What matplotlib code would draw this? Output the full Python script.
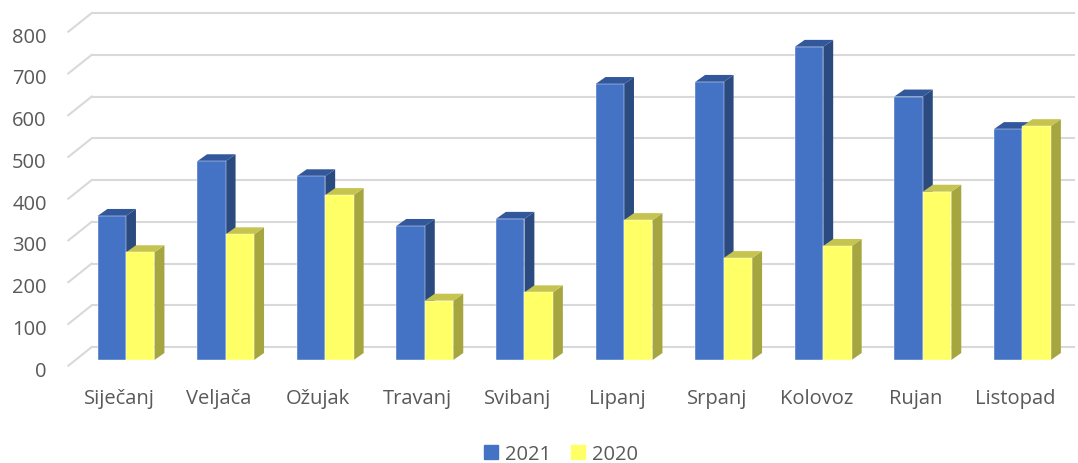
import matplotlib
matplotlib.use('Agg')
import matplotlib.pyplot as plt
from matplotlib.patches import Polygon, Patch

plt.rcParams['font.family'] = ['Open Sans', 'DejaVu Sans']

# data
months = ['Siječanj', 'Veljača', 'Ožujak', 'Travanj', 'Svibanj',
          'Lipanj', 'Srpanj', 'Kolovoz', 'Rujan', 'Listopad']
v2021 = [345, 476, 440, 321, 338, 661, 666, 750, 631, 553]
v2020 = [258, 301, 395, 142, 162, 335, 244, 273, 403, 560]
yticks = [0, 100, 200, 300, 400, 500, 600, 700, 800]

# colours: front, top, side
blue = ('#4472C4', '#32579B', '#2B4A80')
yellow = ('#FFFF66', '#C4C44F', '#A6A641')
grid_c = '#D9D9D9'
txt_c = '#595959'

fig = plt.figure(figsize=(10.78, 4.64), dpi=100)
ax = fig.add_axes([0, 0, 1, 1])
ax.set_xlim(-1.265, 9.558)
ax.set_ylim(-246.7, 864.7)
ax.axis('off')

w = 0.286      # bar width (categories)
ddx = 0.10     # depth offset x
ddy = 16.8     # depth offset y

# back wall gridlines + left wall diagonals
for t in yticks:
    ax.plot([-0.344, 9.53], [t + 31.1, t + 31.1], color=grid_c, lw=1.5, zorder=1,
            solid_capstyle='butt')
    ax.plot([-0.579, -0.344], [t - 13.6, t + 31.1], color=grid_c, lw=1.5, zorder=1)
    ax.text(-0.796, t - 37.6, str(t), ha='right', va='baseline',
            fontsize=14.5, color=txt_c)


def bar3d(x0, v, cols, z):
    front, top, side = cols
    ax.add_patch(Polygon([(x0 + w, 0), (x0 + w, v), (x0 + w + ddx, v + ddy),
                          (x0 + w + ddx, ddy)], closed=True, fc=side, ec='none', zorder=z))
    ax.add_patch(Polygon([(x0, v), (x0 + w, v), (x0 + w + ddx, v + ddy),
                          (x0 + ddx, v + ddy)], closed=True, fc=top, ec='none', zorder=z))
    ax.bar(x0, v, width=w, align='edge', color=front, edgecolor='white',
           linewidth=0.3, zorder=z + 0.5)


for i, m in enumerate(months):
    bar3d(i - w, v2021[i], blue, 2 + i * 2)
    bar3d(i, v2020[i], yellow, 3 + i * 2)
    ax.text(i - 0.07, -103, m, ha='center', va='baseline', fontsize=14.5, color=txt_c)

handles = [Patch(color=blue[0], label='2021'), Patch(color=yellow[0], label='2020')]
fig.legend(handles=handles, loc='center', bbox_to_anchor=(561 / 1078, 1 - 455 / 464),
           ncol=2, frameon=False, fontsize=14.5, handlelength=0.7, handleheight=0.7,
           handletextpad=0.35, columnspacing=1.0, labelcolor=txt_c)

fig.savefig('out.png', dpi=100)
